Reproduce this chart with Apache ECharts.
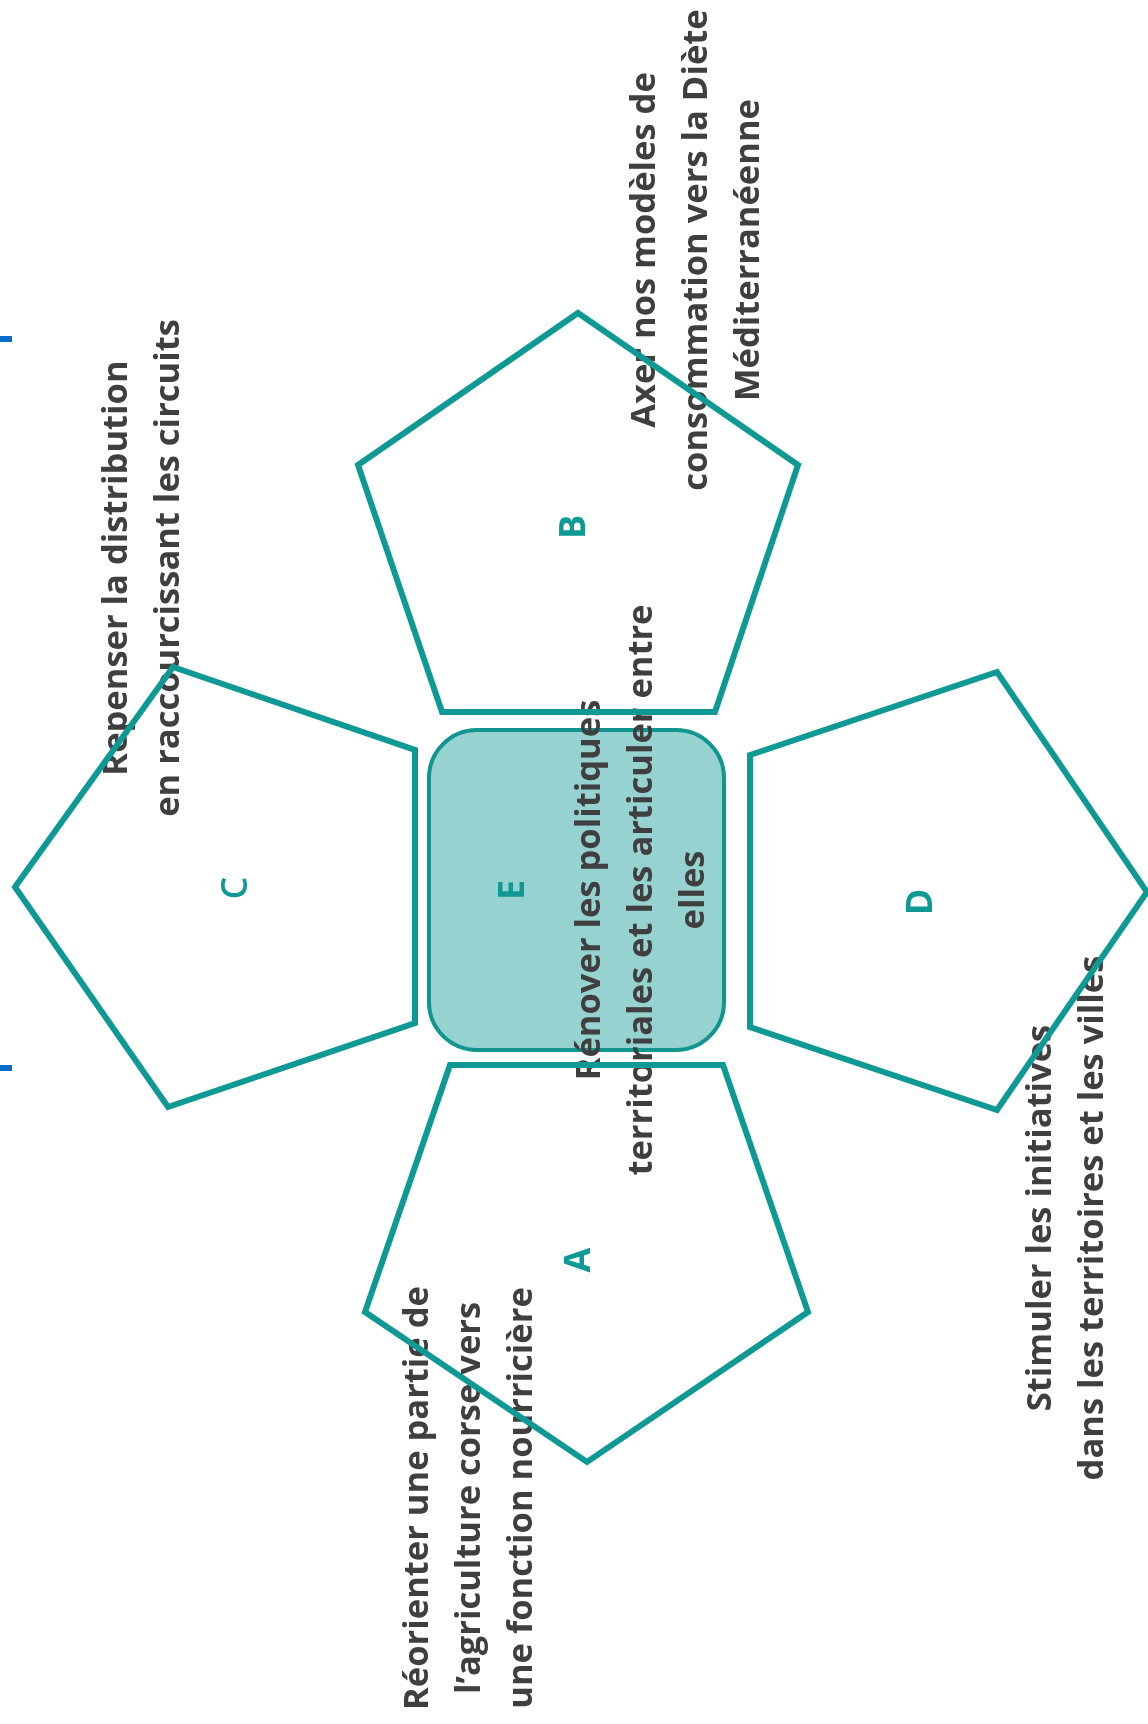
<!DOCTYPE html>
<html>
<head>
<meta charset="utf-8">
<script src="https://cdn.jsdelivr.net/npm/echarts@6/dist/echarts.min.js"></script>
<style>
html, body { margin: 0; padding: 0; background: #fff; }
#chart { width: 1148px; height: 1724px; }
</style>
</head>
<body>
<div id="chart"></div>
<script>
// shapes, in page pixels (x to the right, y downwards)
var pentagonA = [[450, 1065], [723, 1065], [808, 1312], [587, 1462], [365, 1312]];
var pentagonB = [[578, 313], [798, 465], [715, 712], [442, 712], [358, 465]];
var pentagonC = [[173, 667], [415, 750], [415, 1023], [168, 1107], [15, 887]];
var pentagonD = [[750, 755], [997, 672], [1147, 892], [997, 1110], [750, 1027]];
var boxE = [429, 730, 724, 1050];

var letters = ['A', 'B', 'C', 'D', 'E'];
var letterPos = [[580, 1260], [575, 527], [237, 888], [922, 902], [514, 890]];

var captions = [
    'Réorienter une partie de\nl\u2019agriculture corse vers\nune fonction nourricière',
    'Axer nos modèles de\nconsommation vers la Diète\nMéditerranéenne',
    'Repenser la distribution\nen raccourcissant les circuits',
    'Stimuler les initiatives\ndans les territoires et les villes',
    'Rénover les politiques\nterritoriales et les articuler entre\nelles'
];
var captionPos = [[470, 1498], [697, 250], [143, 568], [1067, 1218], [642, 890]];

var blueMarks = [[0, 12, 339], [0, 12, 1068]];

var teal = '#0f9995';
var grey = '#3f3f3f';

var chartDom = document.getElementById('chart');
var myChart = echarts.init(chartDom);
var option;

var pentagons = [pentagonA, pentagonB, pentagonC, pentagonD].map(function (p) {
    var flat = [];
    p.forEach(function (pt) { flat.push(pt[0], pt[1]); });
    return flat;
});

option = {
    animation: false,
    backgroundColor: '#fff',
    grid: { left: 0, right: 0, top: 0, bottom: 0 },
    xAxis: { type: 'value', min: 0, max: 1148, show: false },
    yAxis: { type: 'value', min: 0, max: 1724, inverse: true, show: false },
    series: [
        {
            // central rounded box
            type: 'custom',
            z: 1,
            data: [boxE],
            renderItem: function (params, api) {
                var p1 = api.coord([api.value(0), api.value(1)]);
                var p2 = api.coord([api.value(2), api.value(3)]);
                return {
                    type: 'rect',
                    shape: { x: p1[0], y: p1[1], width: p2[0] - p1[0], height: p2[1] - p1[1], r: 48 },
                    style: { fill: '#95d2d0', stroke: '#10958f', lineWidth: 4 }
                };
            }
        },
        {
            type: 'scatter',
            z: 2,
            symbolSize: 1,
            itemStyle: { color: 'rgba(0,0,0,0)' },
            data: captions.map(function (t, i) {
                return { value: captionPos[i], name: t };
            }),
            label: {
                show: true,
                position: 'inside',
                rotate: 90,
                formatter: function (p) { return p.name; },
                fontFamily: 'Open Sans',
                fontWeight: 700,
                fontSize: 34.5,
                lineHeight: 52,
                color: grey,
                textBorderWidth: 0,
                textBorderColor: 'transparent',
                opacity: 1,
                align: 'center',
                verticalAlign: 'middle'
            }
        },
        {
            type: 'scatter',
            z: 2,
            symbolSize: 1,
            itemStyle: { color: 'rgba(0,0,0,0)' },
            data: letters.map(function (t, i) {
                return {
                    value: letterPos[i],
                    name: t,
                    label: { fontWeight: t === 'C' ? 600 : 700 }
                };
            }),
            label: {
                show: true,
                position: 'inside',
                rotate: 90,
                formatter: function (p) { return p.name; },
                fontFamily: 'Open Sans',
                fontWeight: 700,
                fontSize: 36,
                color: teal,
                textBorderWidth: 0,
                textBorderColor: 'transparent',
                opacity: 1,
                align: 'center',
                verticalAlign: 'middle'
            }
        },
        {
            // pentagon outlines, drawn above the texts
            type: 'custom',
            z: 3,
            data: pentagons,
            renderItem: function (params, api) {
                var pts = [];
                for (var i = 0; i < 5; i++) {
                    pts.push(api.coord([api.value(2 * i), api.value(2 * i + 1)]));
                }
                return {
                    type: 'polygon',
                    shape: { points: pts },
                    style: { fill: 'none', stroke: teal, lineWidth: 6, lineJoin: 'miter' }
                };
            }
        },
        {
            type: 'custom',
            z: 3,
            data: blueMarks,
            renderItem: function (params, api) {
                var p1 = api.coord([api.value(0), api.value(2)]);
                var p2 = api.coord([api.value(1), api.value(2)]);
                return {
                    type: 'line',
                    shape: { x1: p1[0], y1: p1[1], x2: p2[0], y2: p2[1] },
                    style: { stroke: '#0a6ec8', lineWidth: 6 }
                };
            }
        }
    ]
};

option && myChart.setOption(option);
</script>
</body>
</html>
